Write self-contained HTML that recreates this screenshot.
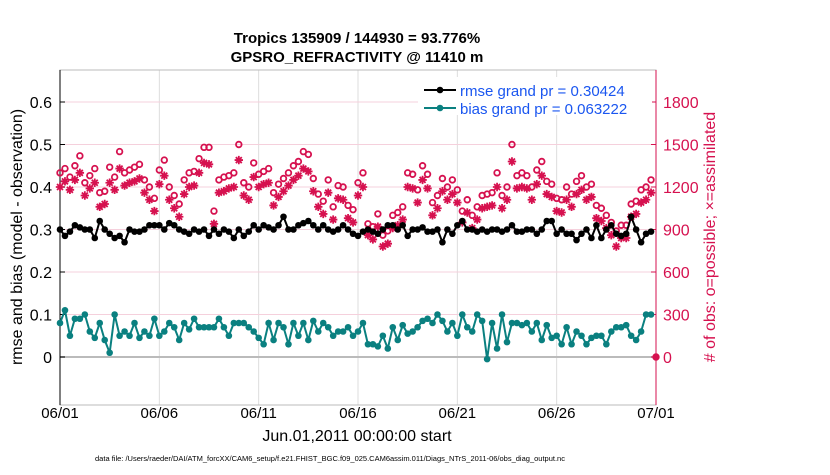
<!DOCTYPE html>
<html><head><meta charset="utf-8"><style>
body{margin:0;background:#fff;width:830px;height:470px;overflow:hidden;font-family:"Liberation Sans",sans-serif}
</style></head><body>
<svg id="chart" width="830" height="470" xmlns="http://www.w3.org/2000/svg" font-family="Liberation Sans, sans-serif">
<g id="grid"></g><g id="axes"></g><g id="marks"></g><g id="labels"></g>
</svg>
<script>
const rmse=[0.30,0.285,0.295,0.31,0.305,0.30,0.30,0.28,0.32,0.30,0.29,0.28,0.285,0.27,0.30,0.295,0.295,0.30,0.31,0.31,0.31,0.30,0.315,0.31,0.30,0.295,0.29,0.30,0.295,0.30,0.285,0.30,0.29,0.30,0.295,0.28,0.30,0.285,0.295,0.31,
0.30,0.31,0.305,0.30,0.31,0.33,0.30,0.30,0.31,0.315,0.32,0.31,0.30,0.31,0.30,0.295,0.30,0.31,0.30,0.29,0.285,0.295,0.30,0.295,0.29,0.30,0.31,0.31,0.30,0.31,0.285,0.30,0.30,0.305,0.295,0.295,0.30,0.27,0.30,0.29,
0.31,0.32,0.30,0.30,0.295,0.30,0.295,0.30,0.30,0.295,0.30,0.31,0.295,0.295,0.30,0.30,0.29,0.30,0.32,0.32,0.29,0.30,0.29,0.29,0.275,0.29,0.30,0.28,0.31,0.28,0.30,0.31,0.29,0.285,0.29,0.33,0.30,0.27,0.29,0.295];
const bias=[0.08,0.11,0.05,0.09,0.09,0.10,0.06,0.045,0.08,0.04,0.01,0.10,0.05,0.06,0.05,0.08,0.045,0.06,0.05,0.09,0.05,0.06,0.08,0.07,0.04,0.08,0.065,0.09,0.07,0.07,0.07,0.07,0.09,0.07,0.05,0.08,0.08,0.08,0.07,0.06,
0.045,0.03,0.08,0.04,0.08,0.07,0.03,0.08,0.05,0.08,0.04,0.085,0.06,0.08,0.07,0.05,0.06,0.06,0.07,0.05,0.06,0.08,0.03,0.03,0.025,0.05,0.02,0.07,0.04,0.075,0.055,0.06,0.07,0.085,0.09,0.08,0.10,0.085,0.06,0.08,
0.05,0.10,0.07,0.06,0.10,0.085,-0.005,0.08,0.02,0.10,0.035,0.08,0.08,0.075,0.08,0.06,0.08,0.04,0.075,0.045,0.05,0.03,0.07,0.03,0.06,0.05,0.03,0.045,0.05,0.05,0.03,0.06,0.07,0.07,0.075,0.05,0.04,0.06,0.10,0.10];
const possible=[1300,1330,1270,1350,1420,1230,1280,1330,1160,1170,1340,1270,1450,1300,1320,1340,1360,1250,1200,1120,1320,1390,1200,1140,1080,1250,1300,1310,1400,1480,1480,1030,1250,1270,1280,1300,1500,1230,1200,1370,
1290,1310,1330,1160,1220,1260,1300,1350,1380,1450,1430,1260,1150,1100,1250,1060,1210,1200,1070,1040,1230,1300,940,920,1010,860,890,1000,1020,1060,1300,1290,1180,1350,1290,1090,1140,1260,1200,1250,
1180,1030,1110,1000,1060,1140,1150,1160,1300,1140,1200,1500,1280,1300,1280,1200,1320,1380,1240,1220,1120,1110,1200,1150,1240,1280,1200,1220,1070,1050,1000,950,890,930,930,1080,1100,1180,1200,1250,0];
const assimilated=[1200,1240,1180,1250,1300,1140,1190,1230,1060,1080,1230,1180,1330,1210,1230,1240,1260,1160,1110,1030,1220,1280,1110,1050,990,1150,1200,1210,1300,1370,1360,940,1160,1170,1190,1200,1390,1140,1110,1270,
1200,1220,1230,1070,1130,1170,1210,1250,1280,1330,1310,1170,1060,1010,1160,970,1120,1110,980,950,1140,1200,860,830,920,780,800,910,930,970,1200,1190,1090,1250,1190,1000,1050,1170,1110,1150,
1090,950,1020,910,970,1050,1060,1070,1200,1050,1110,1380,1190,1200,1190,1110,1220,1280,1150,1130,1030,1020,1110,1060,1150,1180,1110,1130,980,960,910,860,780,840,840,990,1010,1090,1110,1160,0];
const xTicks=["06/01","06/06","06/11","06/16","06/21","06/26","07/01"];
const leftTicks=[0,0.1,0.2,0.3,0.4,0.5,0.6];
const rightTicks=[0,300,600,900,1200,1500,1800];

const NS="http://www.w3.org/2000/svg";
const X0=60,X1=656,Y0=70,Y1=405,RED="#d6114f",TEAL="#0a8080";
const xs=i=>X0+(i/4)*(X1-X0)/30;
const yl=v=>357-v*425;
const yr=v=>357-v*(255/1800);
function mk(tag,attrs,parent,text){const e=document.createElementNS(NS,tag);for(const k in attrs)e.setAttribute(k,attrs[k]);if(text!==undefined)e.textContent=text;document.getElementById(parent).appendChild(e);return e;}

mk('rect',{x:X0,y:Y0,width:X1-X0,height:Y1-Y0,fill:'none',stroke:'#bbb','stroke-width':1},'axes');
xTicks.forEach((t,k)=>{const x=X0+k*5*(X1-X0)/30;
 const g=mk('line',{x1:x,x2:x,y1:Y0,y2:Y1,stroke:'#ddd'},'grid');
 
 const l=mk('text',{x:x,y:418,'font-size':15,'text-anchor':'middle'},'labels',t);
 });
leftTicks.forEach(v=>{const y=yl(v);
 const g=mk('line',{x1:X0,x2:X1,y1:y,y2:y,stroke:'#f5d0dc'},'grid');
 
 mk('line',{x1:X0,x2:X0+5,y1:y,y2:y,stroke:'#000'},'axes');
 const l=mk('text',{x:52,y:y+6,'font-size':16,'text-anchor':'end'},'labels',String(v));
 });
rightTicks.forEach(v=>{const y=yr(v);
 mk('line',{x1:X1-5,x2:X1,y1:y,y2:y,stroke:RED},'axes');
 const l=mk('text',{x:663,y:y+6,'font-size':16,fill:RED},'labels',String(v));
 });
mk('line',{x1:X0,x2:X1,y1:yl(0),y2:yl(0),stroke:'#bbb','stroke-width':2},'grid');
mk('line',{x1:X0,x2:X0,y1:Y0,y2:Y1,stroke:'#000'},'axes');
mk('line',{x1:X1,x2:X1,y1:Y0,y2:Y1,stroke:RED},'axes');

possible.forEach((v,i)=>{const c=mk('circle',{cx:xs(i),cy:yr(v),r:2.8,fill:i===possible.length-1?RED:'none',stroke:RED,'stroke-width':1.8},'marks');
 });
assimilated.forEach((v,i)=>{if(i===assimilated.length-1)return;
 const cx=xs(i),cy=yr(v),r=4.2;let d='';
 for(let a=0;a<4;a++){const t=a*Math.PI/4;d+=`M${cx-r*Math.cos(t)},${cy-r*Math.sin(t)}L${cx+r*Math.cos(t)},${cy+r*Math.sin(t)}`;}
 const p=mk('path',{d:d,stroke:RED,'stroke-width':1.8,fill:'none'},'marks');
 });
function series(arr,color,name){
 const p=mk('polyline',{points:arr.map((v,i)=>xs(i)+','+yl(v)).join(' '),fill:'none',stroke:color,'stroke-width':2},'marks');
 
 arr.forEach((v,i)=>{const c=mk('circle',{cx:xs(i),cy:yl(v),r:3.3,fill:color},'marks');
  });}
series(rmse,'#000','rmse');
series(bias,TEAL,'bias');
</script>
<svg width="830" height="470" style="position:absolute;left:0;top:0">
<text x="357" y="43" font-size="15" font-weight="bold" text-anchor="middle" font-family="Liberation Sans, sans-serif">Tropics 135909 / 144930 = 93.776%</text>
<text x="357" y="62" font-size="15" font-weight="bold" text-anchor="middle" font-family="Liberation Sans, sans-serif">GPSRO_REFRACTIVITY @ 11410 m</text>
<text x="357" y="441" font-size="16" text-anchor="middle" font-family="Liberation Sans, sans-serif">Jun.01,2011 00:00:00 start</text>
<text transform="translate(22,237) rotate(-90)" font-size="16" text-anchor="middle" font-family="Liberation Sans, sans-serif">rmse and bias (model - observation)</text>
<text transform="translate(715,237) rotate(-90)" font-size="16" text-anchor="middle" fill="#d6114f" font-family="Liberation Sans, sans-serif"># of obs: o=possible; ×=assimilated</text>
<g>
<rect x="418" y="77" width="234" height="38" fill="#fff"/>
<line x1="424" x2="456" y1="90" y2="90" stroke="#000" stroke-width="2"/><circle cx="440" cy="90" r="3.3" fill="#000"/>
<text x="460" y="96" font-size="15" fill="#1a56f0" font-family="Liberation Sans, sans-serif">rmse grand pr = 0.30424</text>
<line x1="424" x2="456" y1="108" y2="108" stroke="#0a8080" stroke-width="2"/><circle cx="440" cy="108" r="3.3" fill="#0a8080"/>
<text x="460" y="114" font-size="15" fill="#1a56f0" font-family="Liberation Sans, sans-serif">bias grand pr = 0.063222</text>
</g>
<text x="330" y="461" font-size="7.5" text-anchor="middle" font-family="Liberation Sans, sans-serif">data file: /Users/raeder/DAI/ATM_forcXX/CAM6_setup/f.e21.FHIST_BGC.f09_025.CAM6assim.011/Diags_NTrS_2011-06/obs_diag_output.nc</text>
</svg>
</body></html>
